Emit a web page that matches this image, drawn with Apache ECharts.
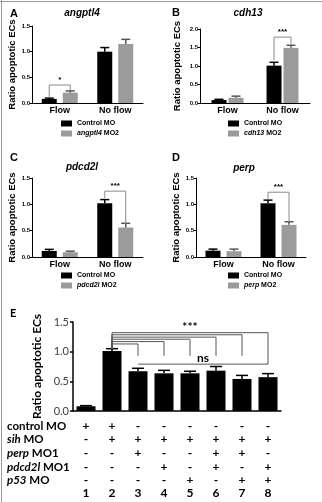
<!DOCTYPE html>
<html>
<head>
<meta charset="utf-8">
<script src="https://cdn.jsdelivr.net/npm/echarts@6/dist/echarts.min.js"></script>
<style>
html, body { margin: 0; padding: 0; background: #fff; }
#chart { width: 322px; height: 502px; }
</style>
</head>
<body>
<div id="chart"></div>
<script>
// ---- panels A-D ----
const groups = ['Flow', 'No flow'];
const genes = ['angptl4', 'cdh13', 'pdcd2l', 'perp'];

const angptl4Ctrl = [0.08, 1.00], angptl4CtrlErr = [0.015, 0.08];
const angptl4Mo = [0.20, 1.15], angptl4MoErr = [0.035, 0.09];
const cdh13Ctrl = [0.08, 1.01], cdh13CtrlErr = [0.02, 0.09];
const cdh13Mo = [0.14, 1.49], cdh13MoErr = [0.045, 0.07];
const pdcd2lCtrl = [0.115, 1.02], pdcd2lCtrlErr = [0.03, 0.07];
const pdcd2lMo = [0.09, 0.56], pdcd2lMoErr = [0.02, 0.08];
const perpCtrl = [0.12, 1.02], perpCtrlErr = [0.03, 0.06];
const perpMo = [0.11, 0.61], perpMoErr = [0.04, 0.06];

// significance brackets (one per panel)
const sigGroup = [0, 1, 1, 1];
const sigLevel = [0.35, 1.78, 1.25, 1.23];
const sigLeftEnd = [0.12, 1.15, 1.12, 1.10];
const sigRightEnd = [0.25, 1.57, 0.63, 0.66];
const sigText = ['*', '***', '***', '***'];

// ---- panel E ----
const eLanes = ['1', '2', '3', '4', '5', '6', '7', '8'];
const eMean = [0.08, 1.01, 0.67, 0.635, 0.635, 0.68, 0.54, 0.57];
const eErr = [0.01, 0.04, 0.05, 0.05, 0.035, 0.07, 0.06, 0.06];

const rowControl = ['+', '+', '-', '-', '-', '-', '-', '-'];
const rowSih = ['-', '+', '+', '+', '+', '+', '+', '+'];
const rowPerp = ['-', '-', '+', '-', '-', '+', '+', '-'];
const rowPdcd2l = ['-', '-', '-', '+', '-', '+', '-', '+'];
const rowP53 = ['-', '-', '-', '-', '+', '-', '+', '+'];

const eBrFrom = [1, 1, 1, 1, 1, 1, 2];
const eBrTo = [2, 3, 4, 5, 6, 7, 7];
const eBrLevel = [1.13, 1.17, 1.21, 1.245, 1.285, 1.32, 0.79];
const eBrFromEnd = [1.05, 1.05, 1.05, 1.05, 1.05, 1.05, 0.79];
const eBrToEnd = [0.93, 0.93, 0.93, 0.93, 0.93, 0.79, 0.79];
const eSigText = ['***', 'ns'];
const eSigFrom = [1, 2];
const eSigTo = [7, 7];
const eSigY = [1.41, 0.89];

const LS = '"Liberation Sans", Arial, sans-serif';
const LT = 'Lato, "Liberation Sans", sans-serif';

const panelData = [
    [angptl4Ctrl, angptl4CtrlErr, angptl4Mo, angptl4MoErr],
    [cdh13Ctrl, cdh13CtrlErr, cdh13Mo, cdh13MoErr],
    [pdcd2lCtrl, pdcd2lCtrlErr, pdcd2lMo, pdcd2lMoErr],
    [perpCtrl, perpCtrlErr, perpMo, perpMoErr]
];

const layout = [
    {left: 32, top: 26, width: 111, height: 77, max: 1.5, nameGap: 12, barGap: '40%', off: 10.5, legL: 61, legT: 120},
    {left: 200, top: 29, width: 110, height: 74, max: 2.0, nameGap: 18, barGap: '13%', off: 8.5, legL: 228, legT: 120},
    {left: 32, top: 178, width: 111, height: 79, max: 1.5, nameGap: 11, barGap: '40%', off: 10.5, legL: 61, legT: 272},
    {left: 196, top: 178, width: 110, height: 79, max: 1.5, nameGap: 12, barGap: '40%', off: 10.5, legL: 228, legT: 272}
];

const errorBars = (offset, cap, color, width) => (params, api) => {
    const i = api.value(0), m = api.value(1), e = api.value(2);
    const base = api.coord([i, m]);
    const top = api.coord([i, m + e]);
    const x = base[0] + offset;
    return {
        type: 'group',
        children: [
            {type: 'line', shape: {x1: x, y1: base[1], x2: x, y2: top[1]}, style: {stroke: color, lineWidth: width}},
            {type: 'line', shape: {x1: x - cap / 2, y1: top[1], x2: x + cap / 2, y2: top[1]}, style: {stroke: color, lineWidth: width}}
        ]
    };
};

const panelBracket = (offset, label) => (params, api) => {
    const i = api.value(0);
    const lv = api.coord([i, api.value(1)]);
    const l = api.coord([i, api.value(2)]);
    const r = api.coord([i, api.value(3)]);
    const x1 = lv[0] - offset, x2 = lv[0] + offset;
    return {
        type: 'group',
        children: [
            {type: 'polyline', shape: {points: [[x1, l[1]], [x1, lv[1]], [x2, lv[1]], [x2, r[1]]]},
             style: {stroke: '#8a8a8a', fill: null, lineWidth: 1}},
            {type: 'text', x: lv[0], y: lv[1] - 1,
             style: {text: label, fill: '#000', fontSize: 8, fontWeight: 'bold', fontFamily: LS,
                     align: 'center', verticalAlign: 'bottom', textAlign: 'center', textVerticalAlign: 'bottom'}}
        ]
    };
};

const grids = [], xAxes = [], yAxes = [], series = [], legends = [];

layout.forEach((p, i) => {
    const [ctrl, ctrlErr, mo, moErr] = panelData[i];
    const moName = genes[i] + ' MO2';
    grids.push({left: p.left, top: p.top, width: p.width, height: p.height, containLabel: false, outerBoundsMode: 'none'});
    xAxes.push({
        type: 'category', gridIndex: i, data: groups,
        axisLine: {lineStyle: {color: '#000', width: 1}},
        axisTick: {show: false},
        axisLabel: {fontSize: 9, fontWeight: 'bold', color: '#000', margin: 3, fontFamily: LS}
    });
    yAxes.push({
        type: 'value', gridIndex: i, min: 0, max: p.max, interval: 0.5,
        name: 'Ratio apoptotic ECs', nameLocation: 'middle', nameGap: p.nameGap,
        nameTextStyle: {fontSize: 9.5, fontWeight: 'bold', fontFamily: LS, color: '#000'},
        axisLine: {show: true, lineStyle: {color: '#000', width: 1}},
        axisTick: {show: true, length: 2, lineStyle: {color: '#000'}},
        axisLabel: {fontSize: 6, fontWeight: 'bold', margin: 2, color: '#000', fontFamily: LS,
                    formatter: v => v.toFixed(1)},
        splitLine: {show: false}
    });
    series.push(
        {type: 'bar', name: 'Control MO', xAxisIndex: i, yAxisIndex: i, data: ctrl,
         barWidth: 15, barGap: p.barGap, itemStyle: {color: '#000'}, silent: true},
        {type: 'bar', name: moName, xAxisIndex: i, yAxisIndex: i, data: mo,
         barWidth: 15, barGap: p.barGap, itemStyle: {color: '#9b9b9b'}, silent: true},
        {type: 'custom', xAxisIndex: i, yAxisIndex: i, z: 3, silent: true,
         data: ctrl.map((v, j) => [j, v, ctrlErr[j]]), renderItem: errorBars(-p.off, 9, '#000', 1.5)},
        {type: 'custom', xAxisIndex: i, yAxisIndex: i, z: 3, silent: true,
         data: mo.map((v, j) => [j, v, moErr[j]]), renderItem: errorBars(p.off, 9, '#555', 1.5)},
        {type: 'custom', xAxisIndex: i, yAxisIndex: i, z: 3, silent: true,
         data: [[sigGroup[i], sigLevel[i], sigLeftEnd[i], sigRightEnd[i]]],
         renderItem: panelBracket(p.off, sigText[i])}
    );
    legends.push({
        data: ['Control MO', moName], left: p.legL, top: p.legT, orient: 'vertical',
        icon: 'rect', itemWidth: 11, itemHeight: 6, itemGap: 3, padding: 0, selectedMode: false,
        formatter: n => n === 'Control MO' ? n : n.replace(/^(\S+) (MO2)$/, '{i|$1} $2'),
        textStyle: {fontSize: 7, fontWeight: 'bold', fontFamily: LS, color: '#000',
                    rich: {i: {fontSize: 7, fontWeight: 'bold', fontStyle: 'italic', fontFamily: LS, color: '#000'}}}
    });
});

// ---- panel E ----
grids.push({left: 73, top: 322, width: 208, height: 89, containLabel: false, outerBoundsMode: 'none'});
xAxes.push({
    type: 'category', gridIndex: 4, data: eLanes,
    axisLine: {lineStyle: {color: '#000', width: 1.5}},
    axisTick: {show: false},
    axisLabel: {show: false}
});
const tableRows = [rowControl, rowSih, rowPerp, rowPdcd2l, rowP53, eLanes];
const rowOffsets = [15, 28, 42, 56, 69, 82];
tableRows.forEach((row, k) => {
    xAxes.push({
        type: 'category', gridIndex: 4, position: 'bottom', offset: rowOffsets[k], data: eLanes,
        axisLine: {show: false}, axisTick: {show: false},
        axisLabel: {interval: 0, margin: 0, verticalAlign: 'middle', fontSize: 12, fontWeight: 'bold',
                    color: '#000', fontFamily: LT, formatter: (v, idx) => row[idx]}
    });
});
yAxes.push({
    type: 'value', gridIndex: 4, min: 0, max: 1.5, interval: 0.5,
    name: 'Ratio apoptotic ECs', nameLocation: 'middle', nameGap: 27,
    nameTextStyle: {fontSize: 12, fontWeight: 'bold', fontFamily: LT, color: '#000'},
    axisLine: {show: true, lineStyle: {color: '#000', width: 1.5}},
    axisTick: {show: true, length: 3, lineStyle: {color: '#000', width: 1.5}},
    axisLabel: {fontSize: 11, margin: 4, color: '#404040', fontFamily: LT, formatter: v => v.toFixed(1)},
    splitLine: {show: false}
});
series.push(
    {type: 'bar', name: 'E', xAxisIndex: 4, yAxisIndex: 4, data: eMean, barWidth: 19,
     itemStyle: {color: '#000'}, silent: true},
    {type: 'custom', xAxisIndex: 4, yAxisIndex: 4, z: 3, silent: true,
     data: eMean.map((v, j) => [j, v, eErr[j]]), renderItem: errorBars(0, 12, '#000', 1.5)},
    {type: 'custom', xAxisIndex: 4, yAxisIndex: 4, z: 3, silent: true,
     data: eBrFrom.map((f, j) => [f, eBrTo[j], eBrLevel[j], eBrFromEnd[j], eBrToEnd[j]]),
     renderItem: (params, api) => {
         const a = api.coord([api.value(0), api.value(2)]);
         const b = api.coord([api.value(1), api.value(2)]);
         const ae = api.coord([api.value(0), api.value(3)]);
         const be = api.coord([api.value(1), api.value(4)]);
         return {type: 'polyline', shape: {points: [[a[0], ae[1]], a, b, [b[0], be[1]]]},
                 style: {stroke: '#555', fill: null, lineWidth: 1}};
     }},
    {type: 'custom', xAxisIndex: 4, yAxisIndex: 4, z: 3, silent: true,
     data: eSigFrom.map((f, j) => [f, eSigTo[j], eSigY[j]]),
     renderItem: (params, api) => {
         const a = api.coord([api.value(0), api.value(2)]);
         const b = api.coord([api.value(1), api.value(2)]);
         return {type: 'text', x: (a[0] + b[0]) / 2, y: a[1],
                 style: {text: eSigText[params.dataIndex], fill: '#000', fontSize: 12, fontWeight: 'bold',
                         fontFamily: LT, align: 'center', verticalAlign: 'middle',
                         textAlign: 'center', textVerticalAlign: 'middle'}};
     }}
);

const txt = (x, y, text, size, family, extra) => ({
    type: 'text', x: x, y: y, silent: true,
    style: Object.assign({text: text, fill: '#000', fontSize: size, fontWeight: 'bold', fontFamily: family,
                          align: 'left', verticalAlign: 'middle', textAlign: 'left', textVerticalAlign: 'middle'}, extra || {})
});
const centered = {align: 'center', textAlign: 'center', fontStyle: 'italic'};
const rowRich = {i: {fontStyle: 'italic', fontSize: 11.5, fontWeight: 'bold', fontFamily: LT, fill: '#000'}};

const graphics = [
    {type: 'line', silent: true, shape: {x1: 0, y1: 1.5, x2: 322, y2: 1.5}, style: {stroke: '#999', lineWidth: 1}},
    {type: 'line', silent: true, shape: {x1: 1.5, y1: 0, x2: 1.5, y2: 502}, style: {stroke: '#999', lineWidth: 1}},
    txt(10, 14, 'A', 11, LS), txt(172, 13, 'B', 11, LS), txt(10, 158, 'C', 11, LS), txt(172, 158, 'D', 11, LS),
    txt(10, 313, 'E', 11, LT),
    txt(82, 13, 'angptl4', 10, LS, centered), txt(248, 13, 'cdh13', 10, LS, centered),
    txt(82, 167, 'pdcd2l', 10, LS, centered), txt(244, 168, 'perp', 10, LS, centered),
    txt(7, 426, 'control MO', 11.5, LT),
    txt(7, 439, '{i|sih} MO', 11.5, LT, {rich: rowRich}),
    txt(7, 453, '{i|perp} MO1', 11.5, LT, {rich: rowRich}),
    txt(7, 467, '{i|pdcd2l} MO1', 11.5, LT, {rich: rowRich}),
    txt(7, 480, '{i|p53} MO', 11.5, LT, {rich: rowRich})
];

const chart = echarts.init(document.getElementById('chart'));
chart.setOption({
    animation: false,
    backgroundColor: '#fff',
    grid: grids,
    xAxis: xAxes,
    yAxis: yAxes,
    legend: legends,
    series: series,
    graphic: graphics
});
</script>
</body>
</html>
